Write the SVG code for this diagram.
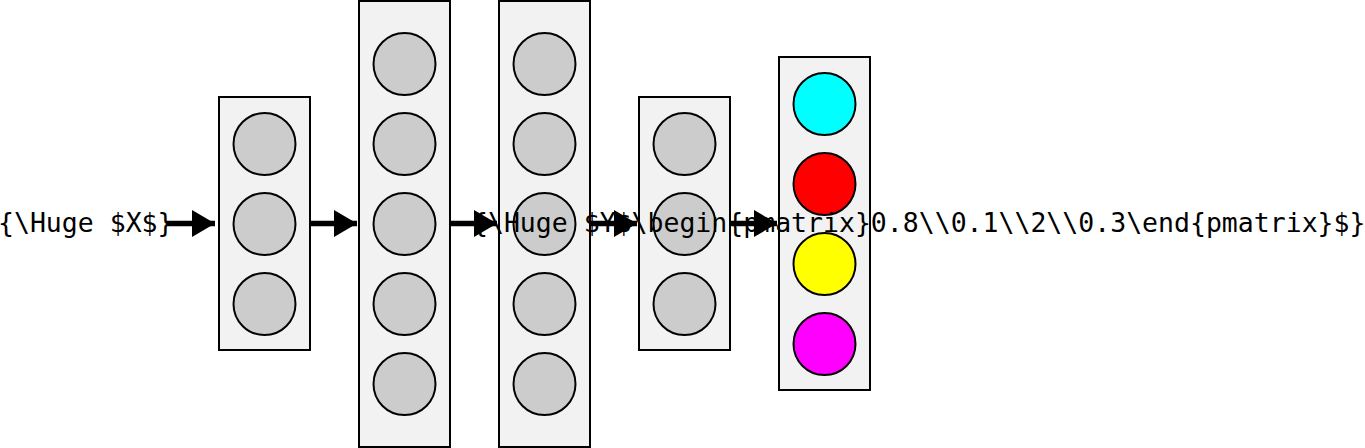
<svg xmlns="http://www.w3.org/2000/svg" width="1365" height="448" viewBox="0 0 1365 448">
<style>
.box{fill:#f2f2f2;stroke:#000;stroke-width:2}
.n{fill:#cccccc;stroke:#000;stroke-width:2}
.lbl{font-family:"DejaVu Sans Mono",monospace;font-size:26.5px;fill:#000}
.e{stroke:#000;stroke-width:5.5;fill:none;marker-end:url(#ah)}
</style>
<defs>
<marker id="ah" markerWidth="23" markerHeight="27" refX="23" refY="13.5" orient="auto" markerUnits="userSpaceOnUse" viewBox="0 0 23 27">
<path d="M0,0 L23,13.5 L0,27 Z" fill="#000"/>
</marker>
</defs>
<g id="layer1">
<rect class="box" x="219" y="97" width="91" height="253"/>
<circle class="n" cx="264.5" cy="144" r="31"/>
<circle class="n" cx="264.5" cy="224" r="31"/>
<circle class="n" cx="264.5" cy="304" r="31"/>
</g>
<g id="layer2">
<rect class="box" x="359" y="1" width="91" height="446"/>
<circle class="n" cx="404.5" cy="64" r="31"/>
<circle class="n" cx="404.5" cy="144" r="31"/>
<circle class="n" cx="404.5" cy="224" r="31"/>
<circle class="n" cx="404.5" cy="304" r="31"/>
<circle class="n" cx="404.5" cy="384" r="31"/>
</g>
<g id="layer3">
<rect class="box" x="499" y="1" width="91" height="446"/>
<circle class="n" cx="544.5" cy="64" r="31"/>
<circle class="n" cx="544.5" cy="144" r="31"/>
<circle class="n" cx="544.5" cy="224" r="31"/>
<circle class="n" cx="544.5" cy="304" r="31"/>
<circle class="n" cx="544.5" cy="384" r="31"/>
</g>
<g id="layer4">
<rect class="box" x="639" y="97" width="91" height="253"/>
<circle class="n" cx="684.5" cy="144" r="31"/>
<circle class="n" cx="684.5" cy="224" r="31"/>
<circle class="n" cx="684.5" cy="304" r="31"/>
</g>
<g id="output">
<rect class="box" x="779" y="57" width="91" height="333"/>
<circle class="n" cx="824.5" cy="104" r="31" style="fill:#00ffff"/>
<circle class="n" cx="824.5" cy="184" r="31" style="fill:#ff0000"/>
<circle class="n" cx="824.5" cy="264" r="31" style="fill:#ffff00"/>
<circle class="n" cx="824.5" cy="344" r="31" style="fill:#ff00ff"/>
</g>
<g id="input">
<text class="lbl" x="-2" y="232">{\Huge $X$}</text>
</g>
<g id="outlabel">
<text class="lbl" x="472" y="232">{\Huge $Y$\begin{pmatrix}0.8\\0.1\\2\\0.3\end{pmatrix}$}</text>
</g>
<g id="connectors">
<line class="e" x1="166" y1="223.5" x2="215" y2="223.5"/>
<line class="e" x1="310" y1="223.5" x2="357" y2="223.5"/>
<line class="e" x1="450" y1="223.5" x2="497" y2="223.5"/>
<line class="e" x1="590" y1="223.5" x2="637" y2="223.5"/>
<line class="e" x1="730" y1="223.5" x2="777" y2="223.5"/>
</g>
</svg>
